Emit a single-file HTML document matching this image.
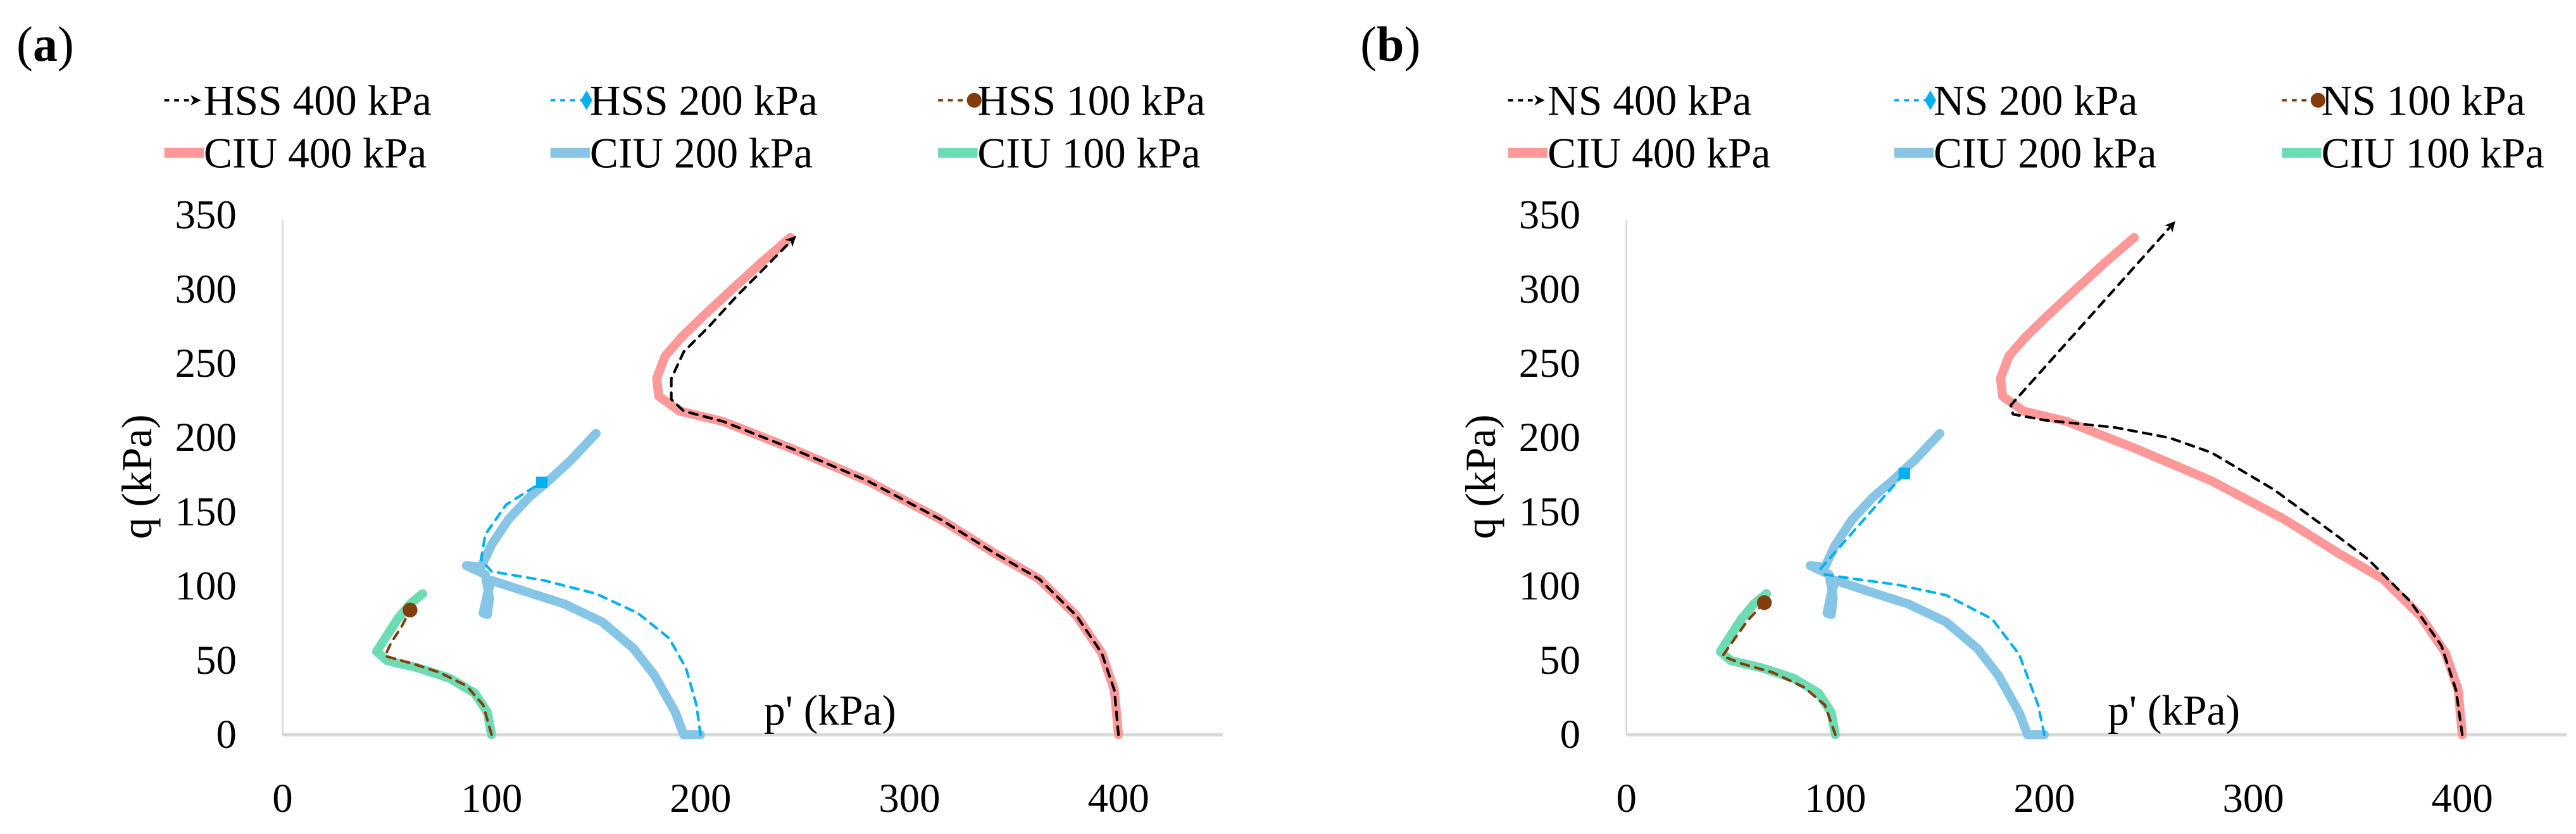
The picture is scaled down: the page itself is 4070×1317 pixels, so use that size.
<!DOCTYPE html>
<html><head><meta charset="utf-8"><style>
html,body{margin:0;padding:0;background:#fff;}
svg{display:block;}
text{font-family:"Liberation Serif",serif;fill:#000;}
</style></head><body>
<svg id="fig" width="4070" height="1317" viewBox="0 0 1568 507.4" xmlns="http://www.w3.org/2000/svg">
<defs>
<marker id="arr" viewBox="0 0 10 10" refX="8" refY="5" markerWidth="4" markerHeight="4" orient="auto"><path d="M0,0L10,5L0,10L3,5z" fill="#000"/></marker>
</defs>
</svg>
<script>
// ---- data (p', q in kPa) ----
const xTicks = [0,100,200,300,400];
const yTicks = [0,50,100,150,200,250,300,350];
const ciu400P = [400,398,392,380,362,341,315,280,245,211,190,180,179,183,191,202,215,229,243];
const ciu400Q = [0,30,55,80,105,122,145,171,192,211,218,228,240,255,268,283,300,318,335];
const ciu200P = [200,192,188,178,168,153,135,115,100,98,96,98,99,97,88,95,100,108,118,128,138,150];
const ciu200Q = [0,0,15,40,58,76,88,97,104,95,82,81,92,108,114,113,128,145,160,172,185,203];
const ciu100P = [100,98,92,80,65,50,45,50,55,61,67];
const ciu100Q = [0,15,28,38,45,50,56,67,78,88,95];
const hss400P = [400,398,392,380,362,341,315,280,245,211,192,186,186,192,204,217,231,245];
const hss400Q = [0,30,55,80,105,122,145,171,192,211,218,226,240,258,275,295,315,335];
const hss200P = [200,198,193,185,170,150,125,100,95,97,107,124];
const hss200Q = [0,20,45,65,82,95,104,110,118,135,155,170];
const hss100P = [100,96,88,75,62,49,52,57,61];
const hss100Q = [0,20,33,42,48,53,62,73,84];
const ns400P = [400,397,390,375,355,341,310,280,260,234,200,185,184,262];
const ns400Q = [0,30,60,90,118,133,165,190,200,207,212,216,222,345];
const ns200P = [200,197,188,175,153,130,109,95,93,133];
const ns200Q = [0,20,54,78,94,101,105,108,112,176];
const ns100P = [100,95,85,70,55,46,52,58,66];
const ns100Q = [0,20,32,42,48,53,65,77,89];

const NS='http://www.w3.org/2000/svg';
const svg=document.getElementById('fig');
function mk(tag,attrs,parent){const e=document.createElementNS(NS,tag);for(const k in attrs)e.setAttribute(k,attrs[k]);(parent||svg).appendChild(e);return e;}

function panel(ox, label, tests, names){
  const g=mk('g',{});
  
  
  const sx=p=>ox+1.272*p, sy=q=>447-0.903*q;
  const lbl=mk('text',{x:ox-162,y:37,'font-size':30},g);
  lbl.innerHTML='(<tspan font-weight="bold">'+label+'</tspan>)';
  
  
  const ya=mk('line',{x1:sx(0),y1:sy(350)+3,x2:sx(0),y2:sy(0),stroke:'#d9d9d9','stroke-width':1},g);
  
  
  const xa=mk('line',{x1:sx(0),y1:sy(0),x2:sx(450),y2:sy(0),stroke:'#d9d9d9','stroke-width':2},g);
  
  
  xTicks.forEach(v=>{const t=mk('text',{x:sx(v),y:494,'font-size':25,'text-anchor':'middle'},g);t.textContent=v;
    
    });
  yTicks.forEach(v=>{const t=mk('text',{x:ox-28,y:sy(v)+8,'font-size':25,'text-anchor':'end'},g);t.textContent=v;
    
    });
  const yt=mk('text',{x:0,y:0,'font-size':26,'text-anchor':'middle',transform:`translate(${ox-80},290) rotate(-90)`},g);
  yt.textContent='q (kPa)';
  
  
  const xt=mk('text',{x:ox+293,y:441,'font-size':26},g);
  xt.textContent="p' (kPa)";
  
  
  tests.forEach(s=>{
    const d=s.P.map((p,i)=>(i?'L':'M')+sx(p).toFixed(1)+','+sy(s.Q[i]).toFixed(1)).join('');
    const path=mk('path',{d:d,fill:'none',stroke:s.c,'stroke-width':s.w,'stroke-linejoin':'round','stroke-linecap':'round'},g);
    if(s.dash)path.setAttribute('stroke-dasharray',s.dash);
    if(s.m==='arrow')path.setAttribute('marker-end','url(#arr)');
    
    
    const n=s.P.length-1;
    if(s.m==='sq'){const m=mk('rect',{x:sx(s.P[n])-3.5,y:sy(s.Q[n])-3.5,width:7,height:7,fill:s.c},g);
      
      }
    if(s.m==='dot'){const m=mk('circle',{cx:sx(s.P[n]),cy:sy(s.Q[n]),r:4.5,fill:'#843c0c'},g);
      
      }
  });
  const cols=[ox-48,ox+187,ox+423];
  const lg=[[names[0],'#000','3,3','arrow',1.6],[names[1],'#00b0f0','3,3','dia',1.6],[names[2],'#843c0c','3,3','dot',1.6],
            ['CIU 400 kPa','#ff9999',null,null,6],['CIU 200 kPa','#87c5e6',null,null,6],['CIU 100 kPa','#6ddcb2',null,null,6]];
  lg.forEach((L,i)=>{
    const x=cols[i%3], y=i<3?61:93;
    const le=mk('g',{},g);
    
    
    const ln=mk('line',{x1:x-24,y1:y,x2:x-(L[3]?3:0),y2:y,stroke:L[1],'stroke-width':L[4]},le);
    if(L[2])ln.setAttribute('stroke-dasharray',L[2]);
    if(L[3]==='arrow')ln.setAttribute('marker-end','url(#arr)');
    if(L[3]==='dia')mk('path',{d:`M${x-2},${y-6}L${x+1.5},${y}L${x-2},${y+6}L${x-5.5},${y}z`,fill:L[1]},le);
    if(L[3]==='dot')mk('circle',{cx:x-2,cy:y,r:4.5,fill:L[1]},le);
    const t=mk('text',{x:x,y:y+9,'font-size':26},le);t.textContent=L[0];
  });
}
const ciu=[{P:ciu400P,Q:ciu400Q,c:'#ff9999',w:5.5,n:'ciu-400-path'},{P:ciu200P,Q:ciu200Q,c:'#87c5e6',w:5.5,n:'ciu-200-path'},{P:ciu100P,Q:ciu100Q,c:'#6ddcb2',w:5.5,n:'ciu-100-path'}];
panel(172,'a',ciu.concat([
  {P:hss400P,Q:hss400Q,c:'#000',w:1.6,dash:'5,4',m:'arrow',n:'hss-400-path'},
  {P:hss200P,Q:hss200Q,c:'#00b0f0',w:1.6,dash:'5,4',m:'sq',n:'hss-200-path'},
  {P:hss100P,Q:hss100Q,c:'#843c0c',w:1.6,dash:'5,4',m:'dot',n:'hss-100-path'}]),
  ['HSS 400 kPa','HSS 200 kPa','HSS 100 kPa']);
panel(990,'b',ciu.concat([
  {P:ns400P,Q:ns400Q,c:'#000',w:1.6,dash:'5,4',m:'arrow',n:'ns-400-path'},
  {P:ns200P,Q:ns200Q,c:'#00b0f0',w:1.6,dash:'5,4',m:'sq',n:'ns-200-path'},
  {P:ns100P,Q:ns100Q,c:'#843c0c',w:1.6,dash:'5,4',m:'dot',n:'ns-100-path'}]),
  ['NS 400 kPa','NS 200 kPa','NS 100 kPa']);
</script>
</body></html>
